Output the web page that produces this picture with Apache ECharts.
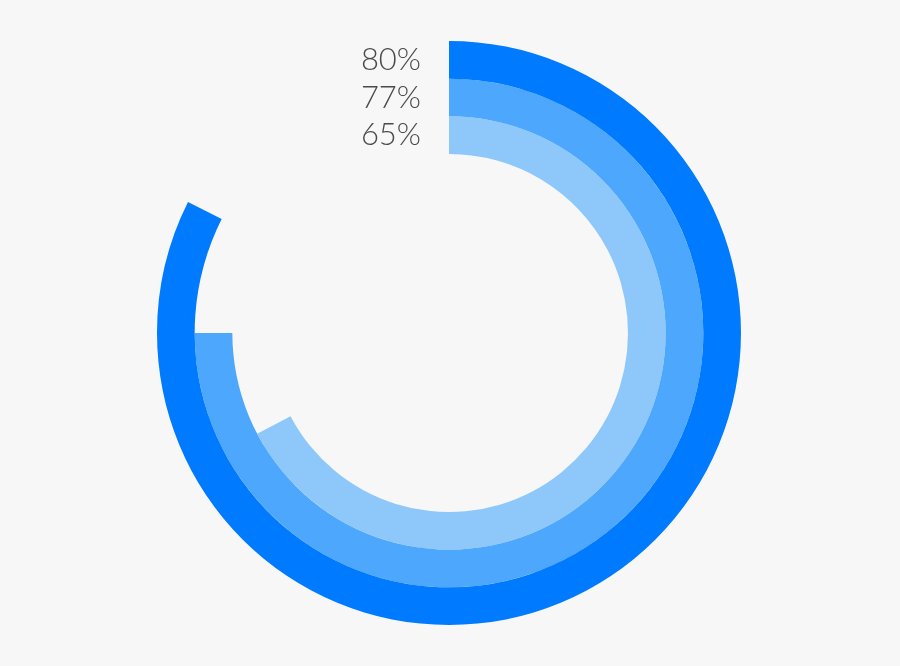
<!DOCTYPE html>
<html>
<head>
<meta charset="utf-8">
<script src="https://cdn.jsdelivr.net/npm/echarts@6/dist/echarts.min.js"></script>
<style>
html,body{margin:0;padding:0;background:#f7f7f7;}
#main{width:900px;height:666px;}
</style>
</head>
<body>
<div id="main"></div>
<script>
// inner ring first
var categories = ['65%', '77%', '80%'];
var values = [67.3, 75, 82.4];
var colors = ['#8ec8fb', '#4da7fd', '#007bff'];

var chart = echarts.init(document.getElementById('main'));
chart.setOption({
  backgroundColor: '#f7f7f7',
  animation: false,
  polar: { center: [449, 333], radius: [179, 292] },
  angleAxis: {
    type: 'value', min: 0, max: 100, startAngle: 90, clockwise: true,
    show: false
  },
  radiusAxis: {
    type: 'category',
    data: categories,
    axisLine: { show: false },
    axisTick: { show: false },
    splitLine: { show: false },
    axisLabel: {
      show: true,
      interval: 0,
      hideOverlap: false,
      margin: 28,
      fontFamily: 'Lato',
      fontWeight: 300,
      fontSize: 31,
      color: '#4a4a4a'
    }
  },
  series: [{
    type: 'bar',
    coordinateSystem: 'polar',
    barCategoryGap: '0%',
    data: values.map(function (v, i) {
      return { value: v, itemStyle: { color: colors[i] } };
    })
  }]
});
</script>
</body>
</html>
